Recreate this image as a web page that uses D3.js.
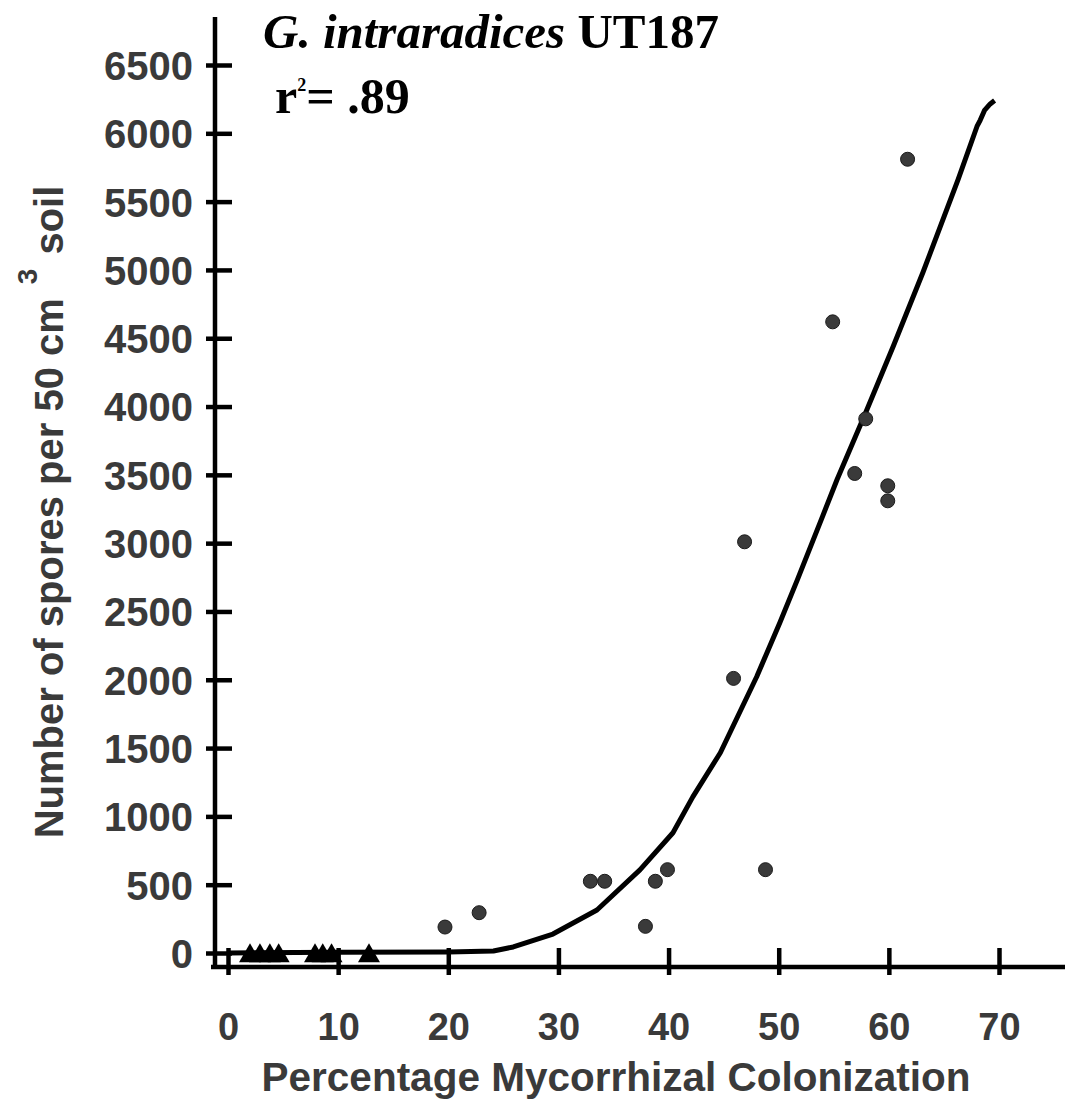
<!DOCTYPE html>
<html>
<head>
<meta charset="utf-8">
<script src="https://cdn.jsdelivr.net/npm/d3@7"></script>
<style>
  html, body { margin: 0; padding: 0; background: #fff; }
  svg { display: block; }
</style>
</head>
<body>
<svg id="chart" width="1065" height="1104"></svg>
<script>
// ---- Data ----
const xTicks = [0, 10, 20, 30, 40, 50, 60, 70];
const yTicks = [0, 500, 1000, 1500, 2000, 2500, 3000, 3500, 4000, 4500, 5000, 5500, 6000, 6500];

// Circles (percentage colonization, spores)
const circleX = [19.7, 22.8, 32.9, 34.2, 37.9, 38.8, 39.9, 45.9, 46.9, 48.8, 54.9, 56.9, 57.9, 59.9, 59.9, 61.7];
const circleY = [190, 295, 525, 525, 195, 525, 610, 2010, 3010, 610, 4620, 3510, 3910, 3420, 3310, 5810];

// Triangles (near zero)
const triX = [2.0, 2.9, 3.8, 4.6, 7.9, 8.6, 9.4, 12.8];
const triY = [0, 0, 0, 0, 0, 0, 0, 0];

// Fitted curve
const fitX = [0, 10, 20, 24.1, 25.9, 29.5, 33.5, 37.4, 40.4, 42.2, 44.7, 48.0, 50.1, 51.7, 54.0, 55.3, 57.9, 60.4, 63.1, 66.3, 68.0, 68.3, 68.7, 69.2, 69.6];
const fitY = [0, 5, 8, 15, 44, 139, 315, 608, 880, 1143, 1466, 2022, 2418, 2733, 3200, 3466, 3957, 4441, 4983, 5665, 6050, 6097, 6170, 6215, 6240];

// ---- Layout ----
const svg = d3.select("#chart");
const x = d3.scaleLinear().domain([0, 70]).range([228, 999]);
const y = d3.scaleLinear().domain([0, 6500]).range([953, 65]);
const axisY = 967;   // x-axis position
const axisX = 215;   // y-axis position
const textColor = "#3a3a3a";
const sans = "'Liberation Sans', Arial, Helvetica, sans-serif";
const serif = "'Liberation Serif', 'Times New Roman', Times, serif";

// ---- X axis ----
const gx = svg.append("g").attr("transform", `translate(0,${axisY})`)
  .call(d3.axisBottom(x).tickValues(xTicks).tickFormat(d3.format("d")).tickSizeOuter(0));
gx.select(".domain").remove();
gx.append("line").attr("x1", axisX - 4).attr("x2", 1065).attr("y1", 0).attr("y2", 0)
  .attr("stroke", "#000").attr("stroke-width", 4.5);
gx.selectAll(".tick line").attr("y1", -19).attr("y2", 8).attr("stroke", "#000").attr("stroke-width", 4.5);
gx.selectAll(".tick text").attr("y", 0).attr("dy", 73)
  .attr("font-family", sans).attr("font-weight", "bold").attr("font-size", 38).attr("fill", textColor);

// ---- Y axis ----
const gy = svg.append("g").attr("transform", `translate(${axisX},0)`)
  .call(d3.axisLeft(y).tickValues(yTicks).tickFormat(d3.format("d")).tickSizeOuter(0));
gy.select(".domain").remove();
gy.append("line").attr("x1", 0).attr("x2", 0).attr("y1", 17).attr("y2", axisY + 2)
  .attr("stroke", "#000").attr("stroke-width", 4.5);
gy.selectAll(".tick line").attr("x1", -9).attr("x2", 17).attr("stroke", "#000").attr("stroke-width", 4.5);
gy.selectAll(".tick text").attr("x", -22).attr("dy", "0.36em")
  .attr("font-family", sans).attr("font-weight", "bold").attr("font-size", 40).attr("fill", textColor);

// ---- Fit curve ----
const fitData = fitX.map((d, i) => [d, fitY[i]]);
svg.append("path").datum(fitData)
  .attr("fill", "none").attr("stroke", "#000").attr("stroke-width", 5)
  .attr("stroke-linejoin", "round").attr("stroke-linecap", "butt")
  .attr("d", d3.line().x(d => x(d[0])).y(d => y(d[1])).curve(d3.curveLinear));

// ---- Triangles ----
const triData = triX.map((d, i) => [d, triY[i]]);
svg.append("g").selectAll("path").data(triData).join("path")
  .attr("transform", d => `translate(${x(d[0])},${y(d[1]) + 3})`)
  .attr("d", d3.symbol().type(d3.symbolTriangle).size(210))
  .attr("fill", "#000");

// ---- Circles ----
const circData = circleX.map((d, i) => [d, circleY[i]]);
svg.append("g").selectAll("circle").data(circData).join("circle")
  .attr("cx", d => x(d[0])).attr("cy", d => y(d[1])).attr("r", 7)
  .attr("fill", "#3a3a3a").attr("stroke", "#1a1a1a").attr("stroke-width", 1);

// ---- Title ----
const title = svg.append("text").attr("x", 263).attr("y", 48)
  .attr("font-family", serif).attr("font-weight", "bold").attr("font-size", 49).attr("fill", "#000");
title.append("tspan").attr("font-style", "italic").text("G. intraradices");
title.append("tspan").text(" UT187");

const r2 = svg.append("text").attr("x", 275).attr("y", 113)
  .attr("font-family", serif).attr("font-weight", "bold").attr("font-size", 50).attr("fill", "#000");
r2.append("tspan").text("r");
r2.append("tspan").attr("font-size", 18).attr("dy", -22).text("2");
r2.append("tspan").attr("dy", 22).text("= .89");

// ---- Axis titles ----
svg.append("text").attr("x", 616).attr("y", 1091).attr("text-anchor", "middle")
  .attr("font-family", sans).attr("font-weight", "bold").attr("font-size", 40.5).attr("fill", textColor)
  .text("Percentage Mycorrhizal Colonization");

const yl = svg.append("text").attr("transform", "translate(63,512) rotate(-90)")
  .attr("text-anchor", "middle")
  .attr("font-family", sans).attr("font-weight", "bold").attr("font-size", 40).attr("fill", textColor);
yl.append("tspan").text("Number of spores per 50 cm");
yl.append("tspan").attr("dx", 14).attr("dy", -26).attr("font-size", 28).text("3");
yl.append("tspan").attr("dx", 14).attr("dy", 26).text("soil");
</script>
</body>
</html>
